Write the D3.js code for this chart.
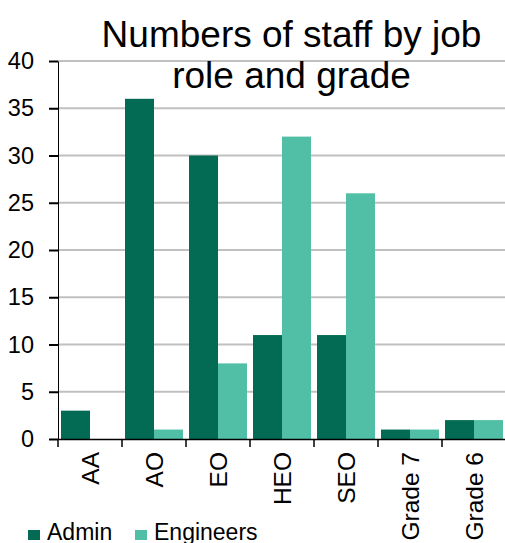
<!DOCTYPE html>
<html>
<head>
<meta charset="utf-8">
<script src="https://cdn.jsdelivr.net/npm/d3@7"></script>
<style>
  body { margin: 0; background: #fff; }
  svg { display: block; font-family: "Liberation Sans", Arial, sans-serif; }
</style>
</head>
<body>
<div id="root"></div>
<script>
const grades = ["AA", "AO", "EO", "HEO", "SEO", "Grade 7", "Grade 6"];
const series = ["Admin", "Engineers"];
const admin = [3, 36, 30, 11, 11, 1, 2];
const engineers = [0, 1, 8, 32, 26, 1, 2];
const yTicks = [0, 5, 10, 15, 20, 25, 30, 35, 40];
const titleLines = ["Numbers of staff by job", "role and grade"];
const colors = ["#036a54", "#50bfa6"];

const width = 505;
const height = 543;

const svg = d3.select("#root")
  .append("svg")
  .attr("width", width)
  .attr("height", height);

const x0 = d3.scaleBand().domain(grades).range([58, 506]);
const x1 = d3.scaleBand().domain(series).range([3, x0.bandwidth() - 3]);
const y = d3.scaleLinear().domain([0, 40]).range([439, 61]);

// gridlines
svg.append("g")
  .selectAll("line")
  .data(yTicks.filter(d => d > 0))
  .join("line")
  .attr("x1", 58)
  .attr("x2", 506)
  .attr("y1", d => y(d))
  .attr("y2", d => y(d))
  .attr("stroke", "#c0c0c0")
  .attr("stroke-width", 2);

// bars
const rows = grades.map((g, i) => ({ grade: g, values: [admin[i], engineers[i]] }));
svg.append("g")
  .selectAll("g")
  .data(rows)
  .join("g")
  .attr("transform", d => `translate(${x0(d.grade)},0)`)
  .selectAll("rect")
  .data(d => d.values.map((v, j) => ({ key: series[j], value: v, color: colors[j] })))
  .join("rect")
  .attr("x", d => x1(d.key))
  .attr("width", x1.bandwidth())
  .attr("y", d => y(d.value))
  .attr("height", d => y(0) - y(d.value))
  .attr("fill", d => d.color);

// y axis
const yAxis = svg.append("g")
  .attr("transform", "translate(58,0)")
  .call(d3.axisLeft(y).tickValues(yTicks).tickSize(9).tickPadding(15).tickSizeOuter(0));
yAxis.select(".domain").attr("stroke", "#000");
yAxis.selectAll(".tick line").attr("stroke-width", 2);
yAxis.selectAll("text")
  .attr("font-size", 23.5)
  .attr("fill", "#000")
  .attr("font-family", "Liberation Sans, Arial, sans-serif");

// x axis
const xAxis = svg.append("g")
  .attr("transform", `translate(0,${y(0)})`)
  .call(d3.axisBottom(x0).tickSize(0).tickPadding(13).tickSizeOuter(0));
xAxis.select(".domain").attr("stroke", "#000").attr("stroke-width", 1.5);
xAxis.selectAll("text")
  .attr("font-size", 24.5)
  .attr("fill", "#000")
  .attr("font-family", "Liberation Sans, Arial, sans-serif")
  .attr("text-anchor", "end")
  .attr("transform", "rotate(-90)")
  .attr("x", -13)
  .attr("y", 0)
  .attr("dy", "0.35em");

// category boundary ticks
svg.append("g")
  .selectAll("line")
  .data(grades.map(g => x0(g)).concat([x0.range()[1]]))
  .join("line")
  .attr("x1", d => d)
  .attr("x2", d => d)
  .attr("y1", y(0))
  .attr("y2", y(0) + 8)
  .attr("stroke", "#000")
  .attr("stroke-width", 1.5);

// title
svg.append("text")
  .attr("text-anchor", "middle")
  .attr("font-size", 37)
  .attr("fill", "#000")
  .selectAll("tspan")
  .data(titleLines)
  .join("tspan")
  .attr("x", 291.5)
  .attr("y", (d, i) => 47 + i * 40.5)
  .text(d => d);

// legend
const legendX = [28, 135];
const legend = svg.append("g")
  .selectAll("g")
  .data(series)
  .join("g")
  .attr("transform", (d, i) => `translate(${legendX[i]},540)`);
legend.append("rect")
  .attr("x", 0)
  .attr("y", -10)
  .attr("width", 12)
  .attr("height", 10)
  .attr("fill", (d, i) => colors[i]);
legend.append("text")
  .attr("x", 19)
  .attr("y", 0)
  .attr("font-size", 23)
  .attr("fill", "#000")
  .text(d => d);
</script>
</body>
</html>
